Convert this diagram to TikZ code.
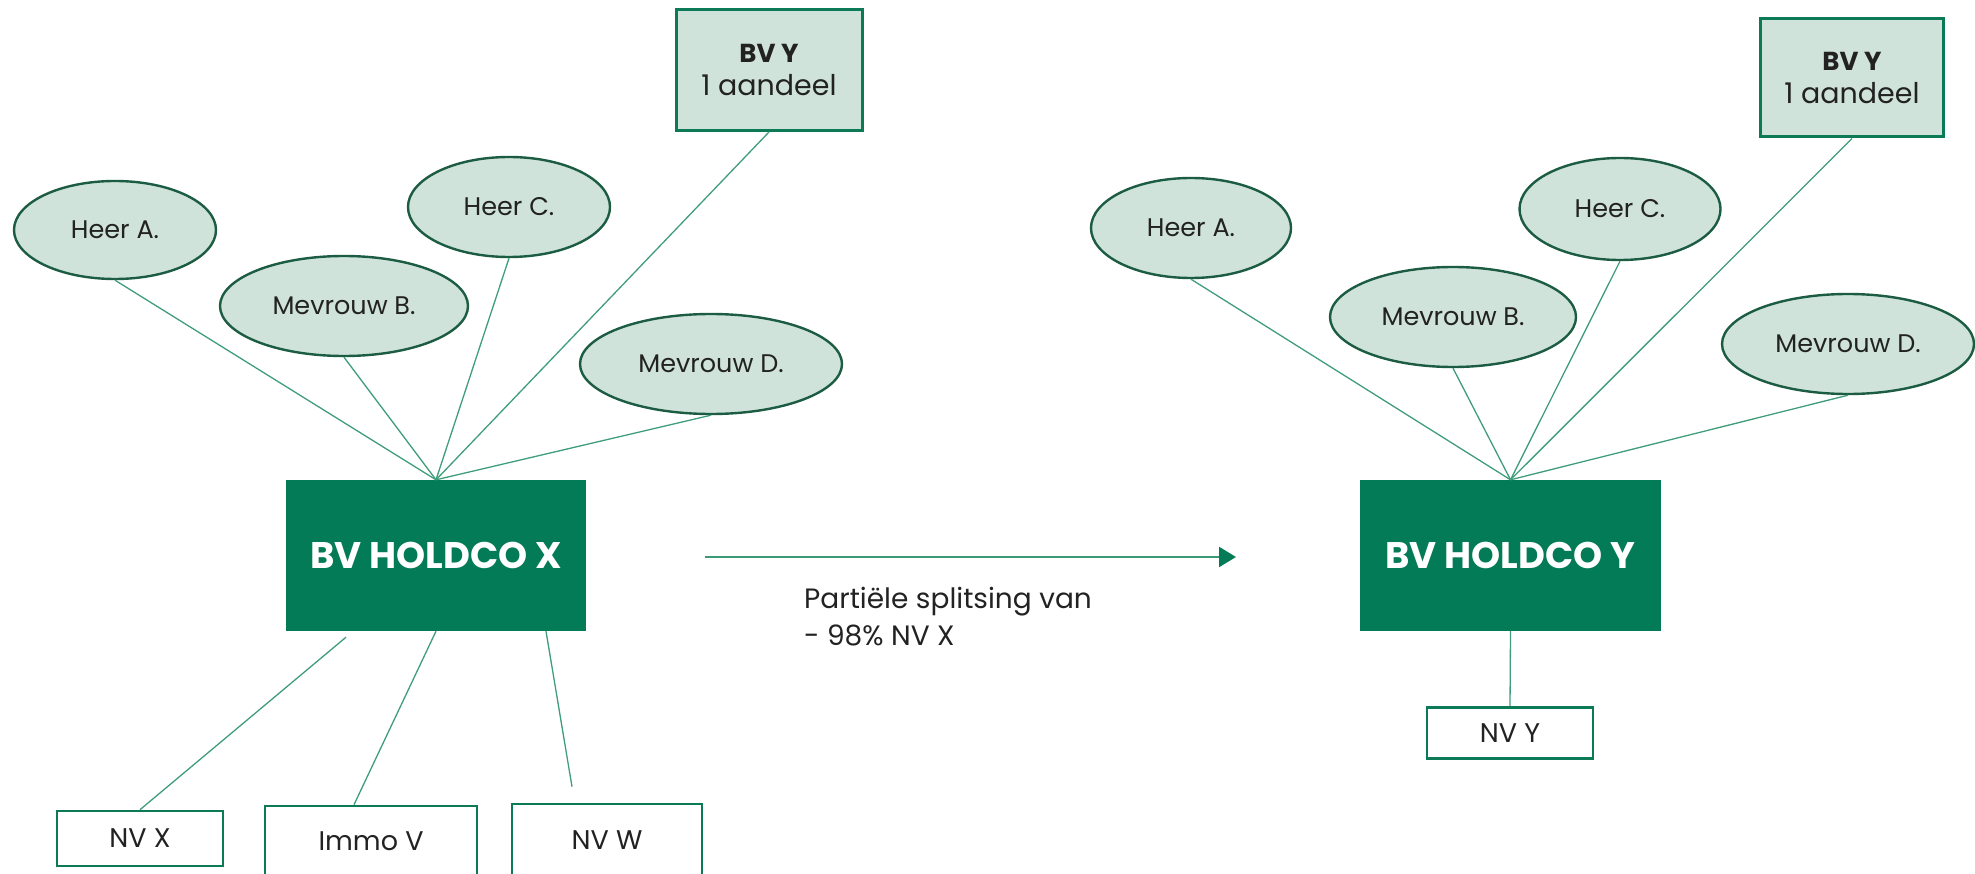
\documentclass[tikz,border=0pt]{standalone}
\usepackage{fontspec}
\setmainfont{Poppins}
\usetikzlibrary{shapes.geometric,arrows.meta}
\definecolor{holdgreen}{RGB}{4,123,87}
\definecolor{paleteal}{RGB}{207,227,219}
\definecolor{rimgreen}{RGB}{28,92,66}
\definecolor{boxgreen}{RGB}{12,122,86}
\definecolor{linkgreen}{RGB}{64,157,122}
\definecolor{inkgray}{RGB}{34,34,34}

\newcommand{\sharelabel}{{\fontsize{26}{33}\selectfont\bfseries BV Y}\\{\fontsize{28.5}{33}\selectfont 1 aandeel}}

\begin{document}
\begin{tikzpicture}[x=1pt,y=-1pt,
  person/.style={ellipse, draw=rimgreen, line width=2.4pt, fill=paleteal,
    inner sep=0pt, text=inkgray, font=\fontsize{25.5}{30}\selectfont},
  holdco/.style={rectangle, fill=holdgreen, inner sep=0pt, text=white,
    font=\fontsize{37}{44}\selectfont\bfseries},
  shareco/.style={rectangle, draw=boxgreen, line width=3pt, fill=paleteal,
    inner sep=0pt, align=center, text=inkgray, font=\fontsize{26}{33}\selectfont},
  subco/.style={rectangle, draw=boxgreen, line width=2.6pt, fill=white,
    inner sep=0pt, text=inkgray, font=\fontsize{27}{32}\selectfont},
  link/.style={draw=linkgreen, line width=1.3pt},
  caption/.style={inner sep=0pt, align=left, text=inkgray,
    font=\fontsize{28}{37}\selectfont},
]
\useasboundingbox (0,0) rectangle (1975,874);
\clip (0,0) rectangle (1975,874);

% ---- before the split ----
\node[shareco, minimum width=186pt, minimum height=121pt] (byl) at (769,70) {\sharelabel};
\node[person, minimum width=202pt, minimum height=98pt]  (al) at (115,230) {Heer A.};
\node[person, minimum width=248pt, minimum height=100pt] (bl) at (344,306) {Mevrouw B.};
\node[person, minimum width=202pt, minimum height=100pt] (cl) at (509,207) {Heer C.};
\node[person, minimum width=262pt, minimum height=100pt] (dl) at (711,364) {Mevrouw D.};
\node[holdco, minimum width=300pt, minimum height=151pt] (hx) at (436,555.5) {BV HOLDCO X};

\node[subco, minimum width=166pt, minimum height=55pt] (nvx)  at (140,838.5) {NV X};
\node[subco, minimum width=212pt, minimum height=70pt] (immo) at (371,841) {Immo V};
\node[subco, minimum width=190pt, minimum height=72pt] (nvw)  at (607,840) {NV W};

\draw[link] (al.south) -- (hx.north);
\draw[link] (bl.south) -- (hx.north);
\draw[link] (cl.south) -- (hx.north);
\draw[link] (byl.south) -- (hx.north);
\draw[link] (dl.south) -- (hx.north);

\draw[link] ([xshift=-90pt,yshift=-6pt]hx.south) -- (nvx.north);
\draw[link] (hx.south) -- ([xshift=-17pt]immo.north);
\draw[link] ([xshift=110pt]hx.south) -- ([xshift=-35pt,yshift=16pt]nvw.north);

% ---- transition ----
\coordinate (arrfrom) at (705,557);
\coordinate (arrto) at (1236,557);
\draw[draw=linkgreen!90!holdgreen, line width=2.2pt,
  -{Triangle[length=17pt,width=20pt,fill=holdgreen,color=holdgreen]}] (arrfrom) -- (arrto);
\node[caption, anchor=north west] (cap) at (804,587) {Partiële splitsing van\\- 98\% NV X};

% ---- after the split ----
\node[shareco, minimum width=183pt, minimum height=118pt] (byr) at (1852,78) {\sharelabel};
\node[person, minimum width=200pt, minimum height=100pt] (ar) at (1191,228) {Heer A.};
\node[person, minimum width=246pt, minimum height=100pt] (br) at (1453,317) {Mevrouw B.};
\node[person, minimum width=201pt, minimum height=102pt] (cr) at (1620,209) {Heer C.};
\node[person, minimum width=252pt, minimum height=100pt] (dr) at (1848,344) {Mevrouw D.};
\node[holdco, minimum width=301pt, minimum height=151pt] (hy) at (1510.5,555.5) {BV HOLDCO Y};
\node[subco, minimum width=166pt, minimum height=51pt] (nvy) at (1510,733) {NV Y};

\draw[link] (ar.south) -- (hy.north);
\draw[link] (br.south) -- (hy.north);
\draw[link] (cr.south) -- (hy.north);
\draw[link] (byr.south) -- (hy.north);
\draw[link] (dr.south) -- (hy.north);
\draw[link] (hy.south) -- (nvy.north);
\end{tikzpicture}
\end{document}
